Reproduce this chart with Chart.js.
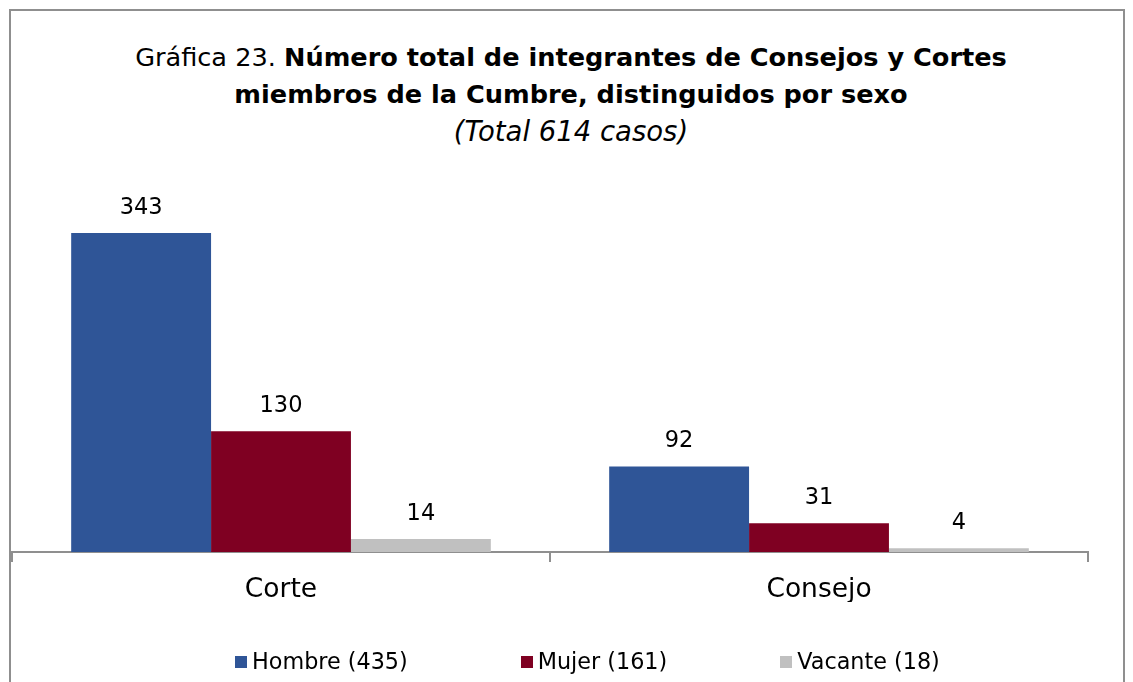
<!DOCTYPE html>
<html>
  <head>
    <meta charset="utf-8">
    <title>Gráfica 23</title>
    <script src="https://cdn.jsdelivr.net/npm/chart.js@4/dist/chart.umd.min.js"></script>
    <style>
      html, body { margin: 0; padding: 0; background: #fff; overflow: hidden; }
      body { width: 1133px; height: 682px; position: relative; font-family: "DejaVu Sans", sans-serif; color: #000; }
      .frame { position: absolute; left: 9px; top: 9px; width: 1112px; height: 700px; border: 2px solid #8f8f8f; border-bottom: none; }
      .title { position: absolute; left: 0; top: 39px; width: 1142px; text-align: center; font-size: 25.6px; line-height: 37px; }
      .title b { font-weight: bold; }
      .title i { font-style: italic; font-size: 27.5px; }
      #legend { position: absolute; left: 235px; top: 648px; display: flex; gap: 113px; font-size: 22.3px; line-height: 26px; }
      #legend span.box { display: inline-block; width: 12px; height: 12px; margin-right: 5px; vertical-align: 1px; }
      #wrap { position: absolute; left: 0; top: 0; width: 1133px; height: 682px; }
    </style>
  </head>
  <body>
    <div class="frame"></div>
    <div class="title">
      Gráfica 23. <b>Número total de integrantes de Consejos y Cortes</b><br>
      <b>miembros de la Cumbre, distinguidos por sexo</b><br>
      <i>(Total 614 casos)</i>
    </div>
    <div id="wrap"><canvas id="gr1"></canvas></div>
    <div id="legend"></div>
    <script>
    // data
    let categories = ['Corte', 'Consejo'];
    let seriesNames = ['Hombre (435)', 'Mujer (161)', 'Vacante (18)'];
    let hombre = [343, 92];
    let mujer = [130, 31];
    let vacante = [14, 4];
    let colors = ['#2f5597', '#7f0022', '#c0c0c0'];

    // values above the bars
    let valueLabels = {
      id: 'valueLabels',
      afterDatasetsDraw(chart) {
        let ctx = chart.ctx;
        ctx.save();
        ctx.font = '22.5px "DejaVu Sans"';
        ctx.fillStyle = '#000';
        ctx.textAlign = 'center';
        ctx.textBaseline = 'middle';
        chart.data.datasets.forEach((ds, i) => {
          chart.getDatasetMeta(i).data.forEach((bar, j) => {
            ctx.fillText(ds.data[j], bar.x, bar.y - 25);
          });
        });
        ctx.restore();
      }
    };

    let config = {
      type: 'bar',
      data: {
        labels: categories,
        datasets: [
          { label: seriesNames[0], data: hombre, backgroundColor: colors[0] },
          { label: seriesNames[1], data: mujer, backgroundColor: colors[1] },
          { label: seriesNames[2], data: vacante, backgroundColor: colors[2] }
        ]
      },
      options: {
        responsive: true,
        maintainAspectRatio: false,
        animation: false,
        layout: { padding: { left: 12, right: 45, top: 208, bottom: 80 } },
        datasets: { bar: { barPercentage: 1, categoryPercentage: 0.78 } },
        scales: {
          x: {
            grid: { drawOnChartArea: false, tickLength: 10, color: '#8f8f8f', lineWidth: 2 },
            border: { color: '#8f8f8f', width: 2 },
            ticks: { color: '#000', padding: 12, font: { family: 'DejaVu Sans', size: 26.5 } },
            afterFit(scale) { scale.height = 50; }
          },
          y: { display: false, min: 0, max: 370 }
        },
        plugins: {
          legend: { display: false },
          tooltip: { enabled: false }
        }
      },
      plugins: [valueLabels]
    };

    var canv = document.getElementById('gr1');
    var ctx = canv.getContext('2d');
    let graph1 = new Chart(ctx, config);

    // legend
    let leg = document.getElementById('legend');
    seriesNames.forEach((name, i) => {
      let item = document.createElement('div');
      item.innerHTML = '<span class="box" style="background:' + colors[i] + '"></span>' + name;
      leg.appendChild(item);
    });
    </script>
  </body>
</html>
